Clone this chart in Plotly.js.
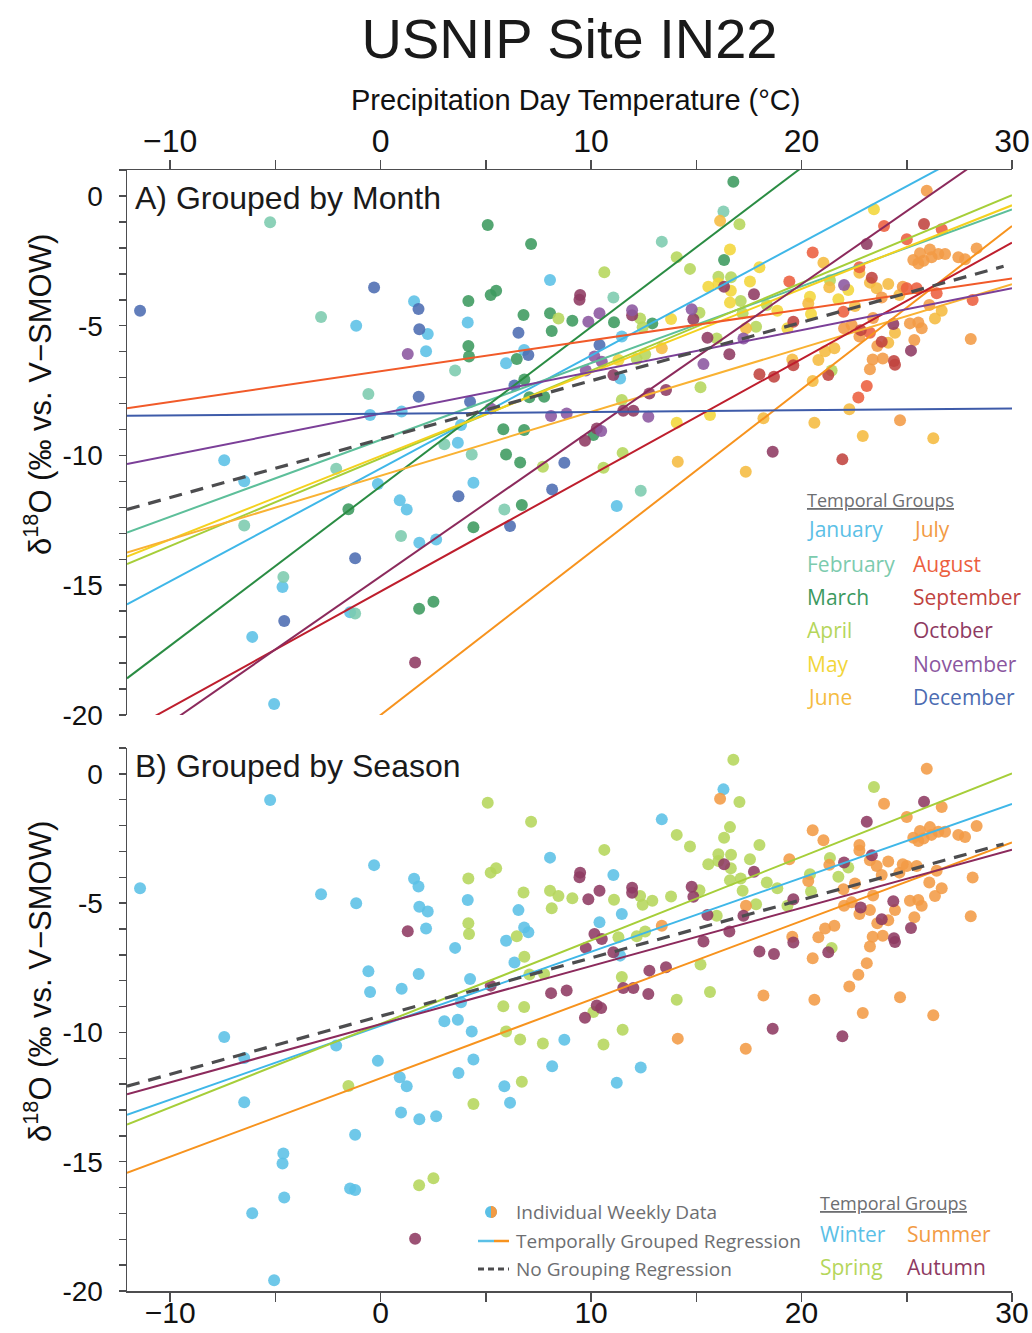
<!DOCTYPE html>
<html><head><meta charset="utf-8">
<script src="https://cdn.plot.ly/plotly-3.0.1.min.js"></script>
<style>body{margin:0;background:#fff}#chart{width:1032px;height:1333px}</style>
</head><body><div id="chart"></div>
<script>
// ---------- DATA ----------
const monthNames = ['January','February','March','April','May','June','July','August','September','October','November','December'];
const seasonNames = ['Winter','Spring','Summer','Autumn'];
const monthSeason = [0,0,1,1,1,2,2,2,3,3,3,0];

// precipitation-day temperature (°C) and δ18O (‰) per month
const janT = [1.59,-1.16,-0.5,1.0,-7.43,-6.48,-0.13,0.91,1.24,1.84,-4.66,-1.45,-6.10,-5.06,8.05,2.24,2.16,4.14,6.82,5.96,3.82,11.46,11.38,3.67,4.41,2.64,11.22];
const janD = [-4.06,-5.0,-8.44,-8.31,-10.18,-10.99,-11.10,-11.73,-12.08,-13.36,-15.07,-16.04,-16.99,-19.58,-3.24,-5.32,-5.98,-4.88,-5.94,-6.45,-8.83,-5.42,-7.03,-9.51,-11.05,-13.24,-11.95];
const febT = [-5.25,-2.83,-0.58,-2.11,-6.48,0.97,-4.62,-1.21,3.54,11.06,13.36,3.03,4.33,5.88,12.36,16.29];
const febD = [-1.01,-4.66,-7.63,-10.51,-12.70,-13.1,-14.68,-16.09,-6.73,-3.91,-1.76,-9.57,-9.96,-12.08,-11.36,-0.6];
const marT = [-1.53,1.83,5.09,7.15,4.17,4.17,4.20,5.23,5.49,6.79,6.47,6.83,7.07,7.77,5.83,6.82,8.05,8.13,9.11,11.09,12.91,5.96,6.63,6.71,4.41,10.11,2.51,16.76,16.32];
const marD = [-12.07,-15.91,-1.12,-1.85,-4.05,-5.78,-6.19,-3.82,-3.65,-4.59,-6.28,-7.07,-7.76,-7.74,-8.99,-9.02,-4.52,-5.2,-4.81,-4.87,-4.91,-9.96,-10.27,-11.91,-12.77,-9.21,-15.64,0.55,-2.47];
const aprT = [14.07,14.70,10.63,8.45,12.33,12.45,15.15,12.17,12.57,11.46,15.2,7.71,10.59,11.5,17.05,16.05,16.65,17.11,17.2,17.84,15.97,21.43,18.35,21.35];
const aprD = [-2.36,-2.81,-2.94,-4.72,-4.72,-5.06,-4.5,-6.28,-6.1,-7.86,-7.37,-10.43,-10.47,-9.9,-1.09,-3.11,-3.13,-4.05,-4.52,-5.04,-5.49,-6.73,-4.2,-3.25];
const mayT = [13.8,15.57,16.05,14.07,15.65,11.3,16.6,18.0,16.64,17.55,16.6,18.85,23.44,19.33,20.4,20.45,21.75,22.22];
const mayD = [-4.74,-3.5,-3.37,-8.74,-8.44,-6.32,-2.06,-2.75,-3.65,-3.3,-4.11,-4.42,-0.51,-5.1,-3.88,-4.55,-3.98,-3.62];
const junT = [13.36,14.12,16.13,17.36,19.56,18.19,20.61,20.53,20.8,21.12,21.56,21.04,20.32,21.32,22.54,22.75,23.25,23.57,24.12,24.65,26.66,26.34,24.44,24.12,22.27,22.91,26.26,17.35];
const junD = [-5.87,-10.24,-0.96,-5.1,-6.3,-8.57,-8.74,-7.13,-6.32,-5.98,-5.87,-2.57,-4.14,-3.52,-4.24,-2.96,-3.34,-3.56,-3.39,-3.82,-4.42,-4.72,-5.27,-5.66,-8.22,-9.25,-9.34,-10.63];
const julT = [25.95,25.31,25.63,25.55,26.1,26.18,26.5,26.82,25.8,27.45,27.77,28.32,24.81,26.07,23.81,22.02,22.38,22.75,25.15,25.55,25.71,25.36,23.6,23.38,23.86,23.25,28.04,24.68,23.4];
const julD = [0.2,-2.47,-2.21,-2.6,-2.06,-2.36,-2.24,-2.24,-2.5,-2.36,-2.44,-2.02,-3.5,-4.2,-3.91,-5.1,-4.97,-5.42,-4.91,-4.88,-5.1,-5.55,-5.78,-6.3,-6.26,-6.68,-5.51,-8.64,-4.7];
const augT = [20.53,19.42,21.99,22.75,23.92,26.66,25.0,25.0,25.47,26.42,28.13,23.25,23.1,22.7];
const augD = [-2.18,-3.3,-4.46,-2.75,-1.16,-1.28,-1.67,-3.56,-3.56,-3.75,-4.01,-5.27,-7.32,-7.77];
const sepT = [18.0,18.69,19.61,21.27,23.34,25.82,22.81,23.81,24.39,24.44,21.94,19.61];
const sepD = [-6.87,-6.97,-6.52,-6.9,-3.15,-1.08,-5.17,-5.62,-6.36,-6.5,-10.15,-4.85];
const octT = [1.64,9.48,9.45,11.06,11.95,14.86,15.53,10.27,9.71,12.77,13.56,11.53,12.01,16.32,17.74,16.57,23.1,24.36,25.2,18.63];
const octD = [-17.98,-3.82,-4.0,-6.9,-4.6,-4.75,-5.46,-8.96,-9.43,-7.61,-7.48,-8.28,-8.28,-3.5,-3.79,-6.1,-1.85,-4.93,-5.96,-9.86];
const novT = [1.29,5.23,8.10,8.84,9.87,10.40,10.16,10.51,9.75,11.95,14.78,15.34,10.48,12.72,17.24,22.02];
const novD = [-6.09,-8.19,-8.48,-8.38,-4.85,-4.52,-6.19,-6.39,-6.73,-4.4,-4.37,-6.48,-9.06,-8.51,-5.49,-3.43];
const decT = [-11.43,-0.31,1.80,1.84,1.81,-1.21,-4.58,6.55,7.02,6.36,4.25,10.40,3.70,6.15,8.73,8.15];
const decD = [-4.42,-3.53,-4.36,-5.14,-7.74,-13.96,-16.38,-5.27,-6.13,-7.30,-7.93,-5.74,-11.57,-12.72,-10.28,-11.31];

// regression lines (slope per °C, intercept at 0 °C)
const monthSlope     = [0.435,0.296,0.614,0.338,0.322,0.246,0.628,0.119,0.448,0.563,0.161,0.0067];
const monthIntercept = [-10.50,-9.40,-11.19,-10.11,-10.02,-10.78,-20.0,-6.75,-15.24,-14.66,-8.39,-8.39];
const seasonSlope     = [0.286,0.323,0.304,0.225];
const seasonIntercept = [-9.74,-9.67,-11.77,-9.68];
const allSlope = 0.225, allIntercept = -9.37;
const allRange = [-12.05, 29.6];
const xRange = [-12.05, 30];
const yRange = [-20, 1];
const yTickVals = [0,-5,-10,-15,-20];
const yTickText = ['0','-5','-10','-15','-20'];

// ---------- STYLE ----------
const monthPointColors = ['#5BC0E6','#7CCBAE','#3C9A5F','#B5D65B','#F2D63A','#F5BB40','#F29B45','#EC5F3F','#C0433F','#8E3A62','#8B569F','#4C6CB2'];
const monthLineColors  = ['#3FB7E8','#5DBF9A','#2A8C43','#A6CE39','#F4D11F','#F9B233','#F7931E','#F15A29','#BE1E2D','#8C2A5C','#7B3F98','#3E5BA9'];
const seasonPointColors = ['#5BC0E6','#B5D65B','#F29B45','#8E3A62'];
const seasonLineColors  = ['#3FB7E8','#A6CE39','#F7931E','#8C2A5C'];
const legendGray = '#6D6E71';

const monthT = [janT,febT,marT,aprT,mayT,junT,julT,augT,sepT,octT,novT,decT];
const monthD = [janD,febD,marD,aprD,mayD,junD,julD,augD,sepD,octD,novD,decD];

const W=1032,H=1333,L=127,R=1012,T=170,B=1291;
const px2x = p => (p-L)/(R-L);
const py2y = p => (B-p)/(B-T);

const traces = [];
const markerSize = 12;
for (let m=0;m<12;m++){
  traces.push({type:'scatter',mode:'markers',x:monthT[m],y:monthD[m],xaxis:'x',yaxis:'y',
    marker:{size:markerSize,color:monthPointColors[m],opacity:0.88},hoverinfo:'skip'});
}
for (let s=0;s<4;s++){
  let xs=[],ys=[];
  for (let m=0;m<12;m++) if (monthSeason[m]===s){xs=xs.concat(monthT[m]);ys=ys.concat(monthD[m]);}
  traces.push({type:'scatter',mode:'markers',x:xs,y:ys,xaxis:'x2',yaxis:'y2',
    marker:{size:markerSize,color:seasonPointColors[s],opacity:0.88},hoverinfo:'skip'});
}
function lineTrace(slope,intercept,range,color,xa,ya,width,dash){
  return {type:'scatter',mode:'lines',x:range,y:range.map(v=>intercept+slope*v),xaxis:xa,yaxis:ya,
    line:{color:color,width:width,dash:dash||'solid'},hoverinfo:'skip'};
}
for (let m=0;m<12;m++) traces.push(lineTrace(monthSlope[m],monthIntercept[m],xRange,monthLineColors[m],'x','y',2));
traces.push(lineTrace(allSlope,allIntercept,allRange,'#4D4D4F','x','y',3.2,'13px,9px'));
for (let s=0;s<4;s++) traces.push(lineTrace(seasonSlope[s],seasonIntercept[s],xRange,seasonLineColors[s],'x2','y2',2));
traces.push(lineTrace(allSlope,allIntercept,allRange,'#4D4D4F','x2','y2',3.2,'13px,9px'));

const baseFont = 'Liberation Sans, Arial, sans-serif';
const axisCommon = {showgrid:false,zeroline:false,showline:true,linecolor:'#4D4D4F',linewidth:1.5,
  ticks:'outside',tickcolor:'#4D4D4F',tickwidth:1.5};
const xCommon = Object.assign({},axisCommon,{range:xRange,tick0:0,dtick:10,ticklen:9,
  tickfont:{family:baseFont,size:32,color:'#111'},
  minor:{dtick:5,tick0:0,ticks:'outside',ticklen:9,tickwidth:1.5,tickcolor:'#4D4D4F'}});
const yCommon = Object.assign({},axisCommon,{range:yRange,tickmode:'array',tickvals:yTickVals,ticktext:yTickText,ticklen:7,ticklabelstandoff:10,
  tickfont:{family:baseFont,size:28,color:'#111'},
  minor:{dtick:1,tick0:0,ticks:'outside',ticklen:7,tickwidth:1.5,tickcolor:'#4D4D4F'}});

const legFont = 'Open Sans, Noto Sans, sans-serif';
function ann(text,px,py,opts){
  return Object.assign({text:text,xref:'paper',yref:'paper',x:px2x(px),y:py2y(py),showarrow:false,
    xanchor:'left',yanchor:'middle',font:{family:legFont,size:19,color:legendGray}},opts||{});
}
const annotations = [
  ann('Precipitation Day Temperature (°C)',575,100,{xanchor:'center',font:{family:baseFont,size:29,color:'#111'}}),
  ann('δ<sup>18</sup>O (‰ vs. V−SMOW)',38,395,{xanchor:'center',textangle:-90,font:{family:baseFont,size:31,color:'#111'}}),
  ann('δ<sup>18</sup>O (‰ vs. V−SMOW)',38,982,{xanchor:'center',textangle:-90,font:{family:baseFont,size:31,color:'#111'}}),
  ann('A) Grouped by Month',133,198,{font:{family:baseFont,size:32,color:'#1a1a1a'}}),
  ann('B) Grouped by Season',133,766,{font:{family:baseFont,size:32,color:'#1a1a1a'}}),
  ann('<u>Temporal Groups</u>',805,500,{font:{family:legFont,size:18,color:legendGray}}),
  ann('<u>Temporal Groups</u>',818,1203,{font:{family:legFont,size:18,color:legendGray}}),
  ann('Individual Weekly Data',514,1212),
  ann('Temporally Grouped Regression',514,1241),
  ann('No Grouping Regression',514,1269),
];
const col1Y=[529,564,597,630,664,697];
for (let i=0;i<6;i++){
  annotations.push(ann(monthNames[i],805,col1Y[i],{font:{family:legFont,size:21,color:monthPointColors[i]}}));
  annotations.push(ann(monthNames[i+6],911,col1Y[i],{font:{family:legFont,size:21,color:monthPointColors[i+6]}}));
}
const seasonLegPos = [[818,1234],[818,1267],[905,1234],[905,1267]];
for (let s=0;s<4;s++) annotations.push(ann(seasonNames[s],seasonLegPos[s][0],seasonLegPos[s][1],{font:{family:legFont,size:21,color:seasonPointColors[s]}}));

const r=6;
const shapes = [
  {type:'circle',xref:'paper',yref:'paper',xsizemode:'pixel',ysizemode:'pixel',xanchor:px2x(491),yanchor:py2y(1212),
   x0:-r,x1:r,y0:-r,y1:r,fillcolor:'#5BC0E6',line:{width:0}},
  {type:'path',xref:'paper',yref:'paper',xsizemode:'pixel',ysizemode:'pixel',xanchor:px2x(491),yanchor:py2y(1212),
   path:`M 0,${-r} C ${0.552*r},${-r} ${r},${-0.552*r} ${r},0 C ${r},${0.552*r} ${0.552*r},${r} 0,${r} Z`,fillcolor:'#F29B45',line:{width:0}},
  {type:'line',xref:'paper',yref:'paper',x0:px2x(478),x1:px2x(494),y0:py2y(1241),y1:py2y(1241),line:{color:'#5BC0E6',width:2.5}},
  {type:'line',xref:'paper',yref:'paper',x0:px2x(494),x1:px2x(509),y0:py2y(1241),y1:py2y(1241),line:{color:'#F7931E',width:2.5}},
  {type:'line',xref:'paper',yref:'paper',x0:px2x(478),x1:px2x(509),y0:py2y(1269),y1:py2y(1269),line:{color:'#4D4D4F',width:3,dash:'6px,4px'}},
];

const layout = {
  width:W,height:H,margin:{l:L,r:W-R,t:T,b:H-B,pad:0},
  paper_bgcolor:'#fff',plot_bgcolor:'#fff',showlegend:false,hovermode:false,
  font:{family:baseFont,color:'#111'},
  title:{text:'USNIP Site IN22',font:{family:baseFont,size:56,color:'#1a1a1a'},
    xref:'paper',x:0.5,xanchor:'center',yref:'container',y:1-38/H,yanchor:'middle'},
  xaxis:Object.assign({},xCommon,{domain:[0,1],anchor:'y',side:'top',ticklabelstandoff:-5}),
  yaxis:Object.assign({},yCommon,{domain:[py2y(715),1],anchor:'x'}),
  xaxis2:Object.assign({},xCommon,{domain:[0,1],anchor:'y2',side:'bottom',ticklabelstandoff:-15,
    tickfont:{family:baseFont,size:30,color:'#111'}}),
  yaxis2:Object.assign({},yCommon,{domain:[0,py2y(748)],anchor:'x2'}),
  annotations:annotations,shapes:shapes
};
Plotly.newPlot('chart',traces,layout,{staticPlot:true,displayModeBar:false});
</script></body></html>
